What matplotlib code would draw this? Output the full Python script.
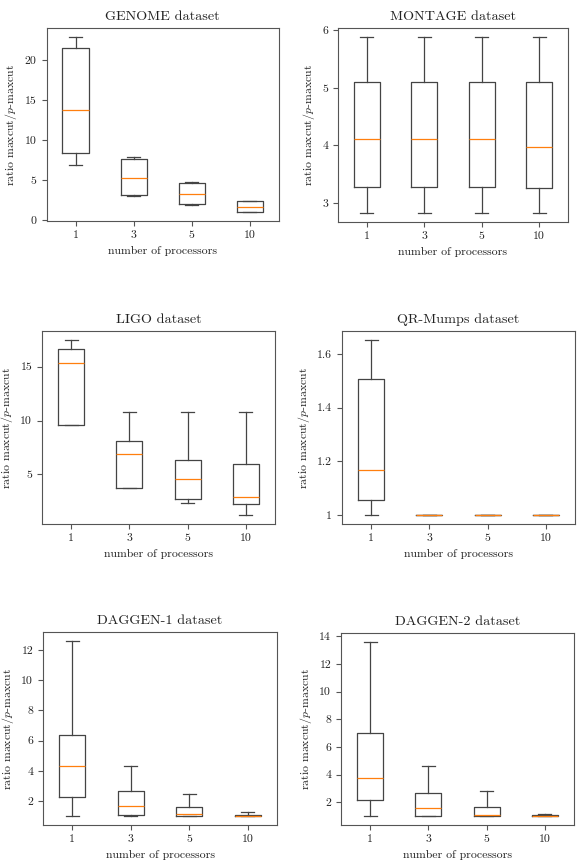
import numpy as np
import matplotlib
matplotlib.use("Agg")
import matplotlib.pyplot as plt
from matplotlib.ticker import FuncFormatter, MultipleLocator

plt.rcParams["font.family"] = "cmr10"
plt.rcParams["mathtext.fontset"] = "cm"
plt.rcParams["axes.formatter.use_mathtext"] = True
plt.rcParams["font.size"] = 8.5
plt.rcParams["axes.edgecolor"] = "#555555"
plt.rcParams["axes.linewidth"] = 0.8
plt.rcParams["xtick.color"] = "#555555"
plt.rcParams["ytick.color"] = "#555555"
plt.rcParams["xtick.labelcolor"] = "#222222"
plt.rcParams["ytick.labelcolor"] = "#222222"
plt.rcParams["text.color"] = "#222222"
plt.rcParams["axes.labelcolor"] = "#222222"

processors = ["1", "3", "5", "10"]

# summary stats per processor count: whisker low, q1, median, q3, whisker high
genome_lo = [6.9, 3.0, 1.9, 1.0]
genome_q1 = [8.35, 3.15, 2.0, 1.0]
genome_med = [13.7, 5.3, 3.25, 1.65]
genome_q3 = [21.5, 7.7, 4.7, 2.4]
genome_hi = [22.9, 7.85, 4.75, 2.45]

montage_lo = [2.82, 2.82, 2.82, 2.82]
montage_q1 = [3.27, 3.27, 3.27, 3.26]
montage_med = [4.12, 4.12, 4.12, 3.97]
montage_q3 = [5.11, 5.11, 5.11, 5.11]
montage_hi = [5.89, 5.89, 5.89, 5.89]

ligo_lo = [9.55, 3.7, 2.35, 1.2]
ligo_q1 = [9.55, 3.72, 2.75, 2.25]
ligo_med = [15.3, 6.85, 4.6, 2.9]
ligo_q3 = [16.6, 8.05, 6.3, 5.95]
ligo_hi = [17.5, 10.75, 10.75, 10.75]

qr_lo = [1.0, 1.0, 1.0, 1.0]
qr_q1 = [1.055, 1.0, 1.0, 1.0]
qr_med = [1.167, 1.0, 1.0, 1.0]
qr_q3 = [1.505, 1.0, 1.0, 1.0]
qr_hi = [1.652, 1.0, 1.0, 1.0]

dag1_lo = [1.0, 1.0, 1.0, 1.0]
dag1_q1 = [2.25, 1.1, 1.0, 1.0]
dag1_med = [4.3, 1.65, 1.15, 1.02]
dag1_q3 = [6.4, 2.65, 1.6, 1.1]
dag1_hi = [12.6, 4.3, 2.5, 1.25]

dag2_lo = [1.0, 1.0, 1.0, 1.0]
dag2_q1 = [2.2, 1.05, 1.0, 1.0]
dag2_med = [3.75, 1.6, 1.1, 1.02]
dag2_q3 = [7.0, 2.65, 1.7, 1.1]
dag2_hi = [13.6, 4.6, 2.8, 1.2]

panels = [
    ("GENOME dataset", genome_lo, genome_q1, genome_med, genome_q3, genome_hi,
     5, (46.5, 279, 28, 221)),
    ("MONTAGE dataset", montage_lo, montage_q1, montage_med, montage_q3,
     montage_hi, 1, (338, 568, 28, 222)),
    ("LIGO dataset", ligo_lo, ligo_q1, ligo_med, ligo_q3, ligo_hi,
     5, (42, 275, 331, 524)),
    ("QR-Mumps dataset", qr_lo, qr_q1, qr_med, qr_q3, qr_hi,
     0.2, (342, 575, 331, 524)),
    ("DAGGEN-1 dataset", dag1_lo, dag1_q1, dag1_med, dag1_q3, dag1_hi,
     2, (43, 277, 632, 825)),
    ("DAGGEN-2 dataset", dag2_lo, dag2_q1, dag2_med, dag2_q3, dag2_hi,
     2, (341, 574, 633, 825)),
]

W, H = 579, 866
fig = plt.figure(figsize=(W / 100, H / 100), dpi=100)

line = dict(color="#444444", linewidth=0.9)

for title, lo, q1, med, q3, hi, step, (l, r, t, b) in panels:
    ax = fig.add_axes([l / W, (H - b) / H, (r - l) / W, (b - t) / H])
    stats = []
    for i, lab in enumerate(processors):
        stats.append({"label": lab, "whislo": lo[i], "q1": q1[i],
                      "med": med[i], "q3": q3[i], "whishi": hi[i]})
    ax.bxp(stats, positions=np.arange(1, 5), widths=0.45, showfliers=False,
           boxprops=line, whiskerprops=line, capprops=line,
           medianprops=dict(color="#ff7f0e", linewidth=0.9))
    ax.set_title(title)
    ax.set_xlabel("number of processors")
    ax.set_ylabel(r"ratio maxcut$/p$-maxcut")
    ax.yaxis.set_major_locator(MultipleLocator(step))
    ax.yaxis.set_major_formatter(FuncFormatter(lambda v, p: f"{v:g}"))

fig.savefig("out.png", dpi=100)
